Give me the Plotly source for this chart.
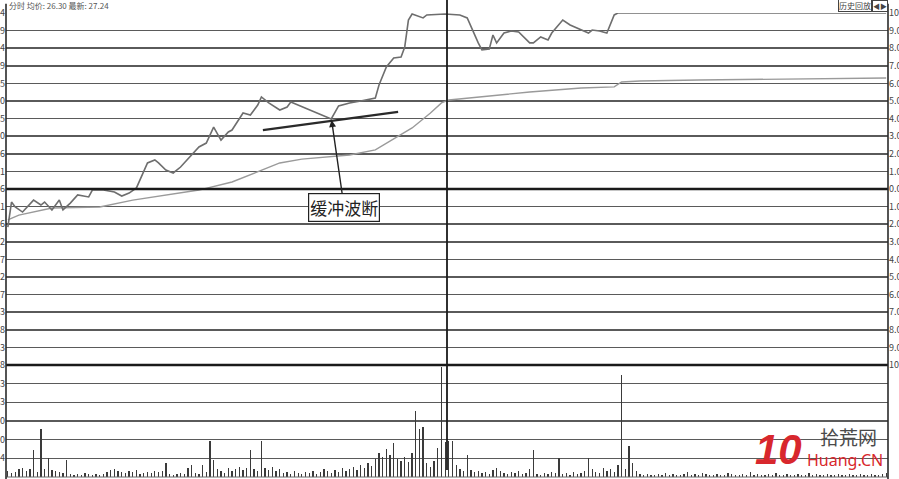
import plotly.graph_objects as go

PREV_CLOSE = 24.76
HEADER = "分时 均价: 26.30 最新: 27.24"

# price line: minute index, percent change
PRICE_MIN = [0, 1, 2, 4, 7, 9, 10, 12, 14, 15, 17, 19, 22, 23, 26, 29, 31, 33, 35, 38,
             40, 41, 43, 45, 47, 50, 52, 54, 56, 58, 60, 61, 63, 64, 66, 68, 69, 71, 74, 76,
             77, 79, 82, 86, 88, 90, 93, 96, 100, 101, 103, 105, 107, 108, 109, 110, 113, 114, 117, 119,
             123, 125, 128, 129, 131, 132, 133, 135, 137, 139, 142, 143, 145, 147, 148, 151, 153, 156, 158, 159,
             161, 163, 165, 166, 239]
PRICE_PCT = [-2.16, -0.74, -1.02, -1.31, -0.63, -0.91, -0.74, -1.19, -0.63, -1.19, -0.80, -0.34, -0.45, -0.06, -0.06, -0.17, -0.40, -0.23, 0.06, 1.48,
             1.65, 1.48, 1.08, 0.91, 1.25, 1.93, 2.39, 2.61, 3.52, 2.78, 3.24, 3.35, 4.03, 4.32, 4.20, 4.77, 5.23, 4.89, 4.49, 4.66,
             4.94, 4.77, 4.49, 4.15, 3.98, 4.72, 4.89, 5.00, 5.17, 5.91, 6.93, 7.44, 7.50, 8.07, 9.60, 9.94, 9.72, 9.89, 9.94, 9.94,
             9.89, 9.72, 8.30, 7.90, 7.95, 8.75, 8.30, 8.86, 8.98, 8.92, 8.30, 8.30, 8.64, 8.47, 8.86, 9.60, 9.32, 9.03, 8.86, 9.03,
             8.98, 8.86, 9.89, 10.0, 10.0]

# average price line
AVG_MIN = [0, 3, 12, 25, 34, 43, 52, 61, 69, 74, 80, 93, 100, 107, 110, 115, 118, 120, 128, 142,
           156, 165, 167, 172, 188, 216, 239]
AVG_PCT = [-1.76, -1.48, -1.08, -1.02, -0.63, -0.34, -0.06, 0.40, 1.08, 1.48, 1.70, 1.93, 2.22, 3.07, 3.47, 4.32, 4.89, 5.06, 5.23, 5.51,
           5.74, 5.80, 6.08, 6.14, 6.19, 6.25, 6.31]

# volume per minute (hundreds of lots)
VOLUME = [6, 4, 5, 8, 9, 6, 8, 27, 5, 49, 8, 19, 7, 6, 5, 4, 17, 3, 2, 3,
          2, 4, 3, 2, 3, 2, 3, 5, 7, 8, 6, 5, 4, 6, 5, 7, 3, 4, 5, 4,
          6, 5, 6, 14, 3, 2, 3, 4, 3, 9, 12, 4, 3, 12, 5, 37, 17, 8, 6, 4,
          9, 6, 8, 10, 7, 9, 27, 8, 6, 37, 9, 7, 10, 6, 8, 4, 5, 3, 6, 4,
          3, 5, 4, 6, 3, 5, 8, 6, 4, 7, 5, 9, 6, 8, 10, 7, 12, 9, 14, 11,
          18, 24, 20, 29, 22, 35, 18, 16, 20, 15, 24, 67, 49, 51, 14, 10, 16, 30, 112, 36,
          37, 37, 12, 8, 6, 22, 7, 5, 6, 4, 5, 3, 7, 9, 6, 4, 3, 5, 4, 6,
          3, 4, 8, 27, 3, 2, 4, 3, 5, 4, 19, 3, 4, 2, 5, 3, 4, 6, 19, 8,
          5, 4, 9, 6, 8, 5, 12, 104, 8, 32, 14, 6, 3, 2, 3, 2, 2, 3, 2, 4,
          2, 3, 2, 2, 3, 5, 2, 3, 2, 4, 3, 2, 2, 3, 2, 2, 4, 3, 2, 2,
          3, 2, 5, 2, 3, 2, 2, 3, 2, 4, 2, 2, 3, 2, 2, 3, 2, 2, 4, 2,
          3, 2, 2, 3, 2, 2, 3, 2, 2, 3, 2, 2, 3, 2, 2, 3, 2, 2, 3, 4]
VOL_TICKS = [19, 38, 57, 76, 95]
VOL_LABELS = ["14", "70", "30", "23", "93"]
VOL_MAX = 114

PCT_TICKS = list(range(-10, 11))
TREND_MIN = [69.4, 106.2]
TREND_PCT = [3.35, 4.38]
NOTE_TEXT = "缓冲波断"
NOTE_POS = (91.5, -1.03)
NOTE_TARGET = (88.1, 3.92)

minutes = list(range(len(VOLUME)))

W, H = 899, 479
L, R, T, B = 6, 11, 13, 2
plot_h = H - T - B
split = 112 / plot_h

fig = go.Figure()
# anchor trace for the left price axis
fig.add_trace(go.Scatter(x=[0], y=[PREV_CLOSE], mode="markers", yaxis="y",
                         marker=dict(opacity=0), hoverinfo="skip"))
fig.add_trace(go.Scatter(x=AVG_MIN, y=AVG_PCT, mode="lines", yaxis="y2",
                         line=dict(color="#9a9a9a", width=1.4), hoverinfo="skip"))
fig.add_trace(go.Scatter(x=PRICE_MIN, y=PRICE_PCT, mode="lines", yaxis="y2",
                         line=dict(color="#6e6e6e", width=1.6), hoverinfo="skip"))
fig.add_trace(go.Scatter(x=TREND_MIN, y=TREND_PCT, mode="lines", yaxis="y2",
                         line=dict(color="#2a2a2a", width=2.2), hoverinfo="skip"))
fig.add_trace(go.Bar(x=minutes, y=VOLUME, yaxis="y3", width=0.35,
                     marker=dict(color="#3a3a3a", line=dict(width=0)), hoverinfo="skip"))

price_ticks = [PREV_CLOSE * (1 + k / 100) for k in PCT_TICKS]
grid_col = "#5a5a5a"

fig.update_layout(
    width=W, height=H, autosize=False,
    margin=dict(l=L, r=R, t=T, b=B, autoexpand=False),
    paper_bgcolor="white", plot_bgcolor="white",
    showlegend=False, bargap=0, hovermode=False,
    font=dict(family="Noto Sans CJK SC, Noto Sans, sans-serif", color="#333"),
    xaxis=dict(range=[-0.5, 239.5], showticklabels=False, showgrid=False, zeroline=False,
               anchor="y3", showline=False, automargin=False),
    yaxis=dict(domain=[split, 1], range=[PREV_CLOSE * 0.9, PREV_CLOSE * 1.1],
               tickvals=price_ticks, ticktext=[f"{v:.2f}" for v in price_ticks],
               showgrid=True, gridcolor=grid_col, gridwidth=1.6, zeroline=False,
               tickfont=dict(size=9, color="#444"), ticks="", showline=False, anchor="x",
               automargin=False),
    yaxis2=dict(overlaying="y", side="right", range=[-10, 10], tickvals=PCT_TICKS,
                ticktext=[f"{abs(k):.2f}%" for k in PCT_TICKS], showgrid=False, zeroline=False,
                tickfont=dict(size=9, color="#444"), ticks="", anchor="x", automargin=False),
    yaxis3=dict(domain=[0, split], range=[0, VOL_MAX], tickvals=VOL_TICKS,
                ticktext=VOL_LABELS,
                showgrid=True, gridcolor=grid_col, gridwidth=1.6, zeroline=False,
                tickfont=dict(size=9, color="#444"), ticks="", anchor="x", automargin=False),
)

shapes = [
    # zero line
    dict(type="line", xref="paper", yref="y2", x0=0, x1=1, y0=0, y1=0,
         line=dict(color="#1a1a1a", width=2.6)),
    # panel separator
    dict(type="line", xref="paper", yref="paper", x0=0, x1=1, y0=split, y1=split,
         line=dict(color="#1a1a1a", width=2.6)),
    # bottom line
    dict(type="line", xref="paper", yref="paper", x0=0, x1=1, y0=0, y1=0,
         line=dict(color="#6a6a6a", width=1.2)),
    # left/right frame
    dict(type="line", xref="paper", yref="paper", x0=0, x1=0, y0=-0.01, y1=1.02,
         line=dict(color="#2a2a2a", width=1.6)),
    dict(type="line", xref="paper", yref="paper", x0=1, x1=1, y0=-0.01, y1=1.02,
         line=dict(color="#2a2a2a", width=1.6)),
    # midday separator
    dict(type="line", xref="x", yref="paper", x0=119.5, x1=119.5, y0=0.015, y1=1.03,
         line=dict(color="#1a1a1a", width=1.8)),
]
fig.update_layout(shapes=shapes)


def px(xp):
    return (xp - L) / (W - L - R)


def py(yp):
    return (H - B - yp) / plot_h


annotations = [
    dict(x=px(7), y=py(5), xref="paper", yref="paper", text=HEADER, showarrow=False,
         xanchor="left", yanchor="middle", font=dict(size=8, color="#555")),
    dict(x=px(855), y=py(6), xref="paper", yref="paper", text="历史回放", showarrow=False,
         xanchor="center", yanchor="middle", font=dict(size=8, color="#444"),
         bordercolor="#444", borderwidth=1, borderpad=0),
    dict(x=px(880), y=py(6), xref="paper", yref="paper", text="◀▶", showarrow=False,
         xanchor="center", yanchor="middle", font=dict(size=7, color="#444"),
         bordercolor="#444", borderwidth=1, borderpad=0),
    dict(x=NOTE_TARGET[0], y=NOTE_TARGET[1], xref="x", yref="y2",
         ax=NOTE_POS[0], ay=NOTE_POS[1], axref="x", ayref="y2",
         text=NOTE_TEXT, showarrow=True, arrowhead=2, arrowsize=1, arrowwidth=1.4,
         arrowcolor="#222", font=dict(size=17, color="#222"),
         bordercolor="#222", borderwidth=1.2, borderpad=1, bgcolor="white"),
    # watermark
    dict(x=px(778), y=py(449), xref="paper", yref="paper", text="<b><i>10</i></b>", showarrow=False,
         xanchor="center", yanchor="middle", font=dict(size=42, color="#d8272d", family="Liberation Sans")),
    dict(x=px(848), y=py(436), xref="paper", yref="paper", text="拾荒网", showarrow=False,
         xanchor="center", yanchor="middle", font=dict(size=19, color="#4a4a4a")),
    dict(x=px(845), y=py(460), xref="paper", yref="paper", text="Huang.CN", showarrow=False,
         xanchor="center", yanchor="middle", font=dict(size=16, color="#d8272d", family="Noto Sans")),
]
fig.update_layout(annotations=annotations)

fig.write_html("out.html", config={"displayModeBar": False, "staticPlot": True},
               post_script="document.body.style.margin='0';document.body.style.padding='0';")
